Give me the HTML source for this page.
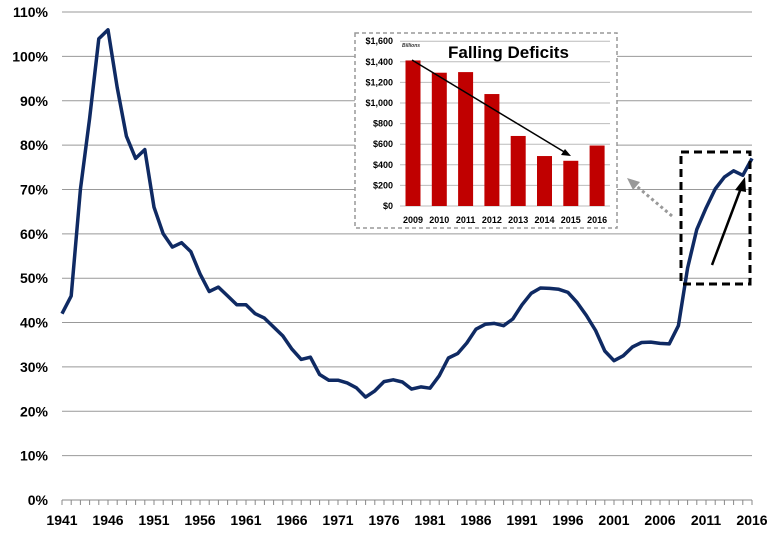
<!DOCTYPE html>
<html><head><meta charset="utf-8"><style>
body{margin:0;background:#fff;}
svg{display:block;font-family:"Liberation Sans",Arial,sans-serif;font-weight:bold;}
</style></head><body>
<svg id="s" width="771" height="543" viewBox="0 0 771 543" xmlns="http://www.w3.org/2000/svg">
<g id="grid" stroke="#999" stroke-width="1"></g>
<g id="labels" font-size="14" fill="#000"></g>
<line x1="62" y1="500" x2="752" y2="500" stroke="#888" stroke-width="1"/>
<path id="line" fill="none" stroke="#0f2a63" stroke-width="3.5" stroke-linejoin="round"/>
<rect x="355" y="33" width="262" height="195" fill="#fff" stroke="#999" stroke-width="1.5" stroke-dasharray="4,3"/>
<g id="inset" font-size="9"></g>
<text x="448" y="58" font-size="17" fill="#000">Falling Deficits</text>
<text x="402" y="47" font-size="5" font-style="italic" fill="#333">Billions</text>
<line x1="412" y1="60" x2="566" y2="153" stroke="#000" stroke-width="1.5"/>
<polygon points="571,156 561,155 565,149" fill="#000"/>
<rect x="681" y="152" width="69" height="132" fill="none" stroke="#000" stroke-width="3" stroke-dasharray="8,5"/>
<line x1="712" y1="265" x2="741" y2="188" stroke="#000" stroke-width="2.5"/>
<polygon points="745,177 735,190 746,192" fill="#000"/>
<line x1="672" y1="216" x2="634" y2="184" stroke="#999" stroke-width="3" stroke-dasharray="3,3"/>
<polygon points="627,178 640,182 633,190" fill="#999"/>
</svg>
<script>
var ns="http://www.w3.org/2000/svg";
function el(p,t,a,tx){var e=document.createElementNS(ns,t);for(var k in a)e.setAttribute(k,a[k]);if(tx!=null)e.textContent=tx;p.appendChild(e);return e;}
var g=document.getElementById('grid'),L=document.getElementById('labels');
for(var i=0;i<=11;i++){var y=500-i*44.36;if(i>0)el(g,'line',{x1:62,x2:752,y1:y,y2:y});el(L,'text',{x:48,y:y+5,'text-anchor':'end'},(i*10)+'%');}
for(var yr=1941;yr<=2016;yr++){var x=62+(yr-1941)*9.2;el(g,'line',{x1:x,x2:x,y1:500,y2:505,stroke:'#888'});if((yr-1941)%5==0)el(L,'text',{x:x,y:525,'text-anchor':'middle'},yr);}
var v=[42,46,70,86,104,106,93,82,77,79,66,60,57,58,56,51,47,48,46,44,44,42,41,39,37,34,31.7,32.2,28.3,27,27,26.4,25.3,23.2,24.6,26.7,27.1,26.6,25,25.5,25.2,28,32,33,35.4,38.5,39.6,39.8,39.3,40.8,44,46.6,47.8,47.7,47.5,46.8,44.5,41.6,38.2,33.6,31.4,32.5,34.5,35.5,35.6,35.3,35.2,39.3,52.3,61,65.8,70.1,72.8,74.2,73.2,77];
var d='';v.forEach(function(a,i){d+=(i?'L':'M')+(62+i*9.2).toFixed(1)+','+(500-a*4.436).toFixed(1);});
document.getElementById('line').setAttribute('d',d);
var I=document.getElementById('inset');
for(var j=0;j<=8;j++){var y=206-j*20.6;el(I,'line',{x1:400,x2:610,y1:y,y2:y,stroke:'#bbb','stroke-width':1});var s=j*200;el(I,'text',{x:393,y:y+3,'text-anchor':'end'},'$'+(s>=1000?Math.floor(s/1000)+','+String(s%1000).padStart(3,'0'):s));}
var b=[1413,1294,1300,1087,680,485,439,587];
b.forEach(function(a,k){var cx=413+k*26.3,h=a*0.103;el(I,'rect',{x:cx-7.5,y:206-h,width:15,height:h,fill:'#c00000'});el(I,'text',{x:cx,y:223,'text-anchor':'middle'},2009+k);});
</script>
</body></html>
